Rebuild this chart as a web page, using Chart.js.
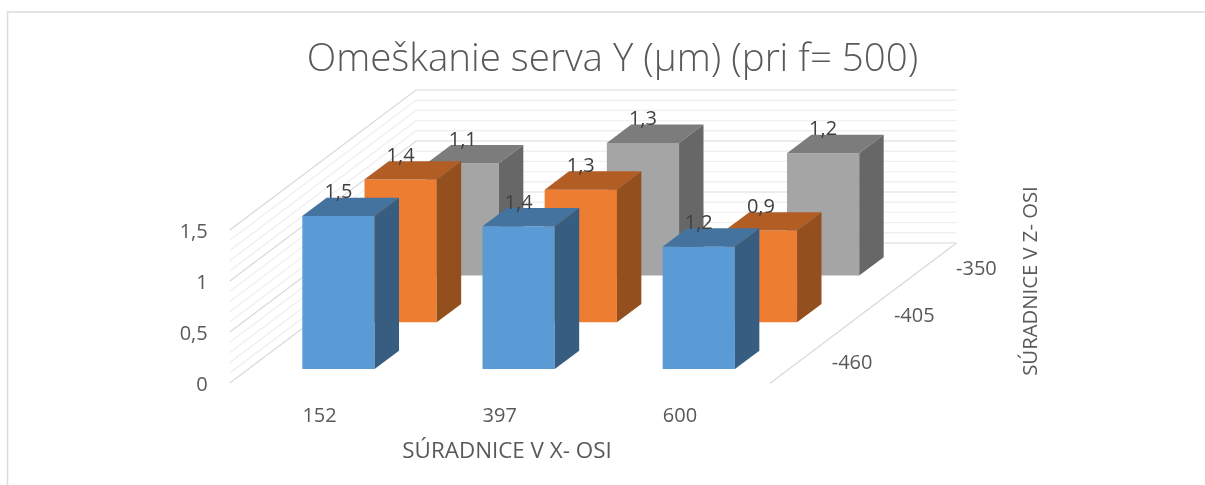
<!DOCTYPE html>
<html>
<head>
<meta charset="utf-8">
<script src="https://cdn.jsdelivr.net/npm/chart.js@4"></script>
<style>html,body{margin:0;padding:0;background:#fff}canvas{display:block}</style>
</head>
<body>
<canvas id="c" width="1205" height="485"></canvas>
<script>
const chartTitle = 'Omeškanie serva Y (µm) (pri f= 500)';
const xTitle = 'SÚRADNICE V X- OSI';
const zTitle = 'SÚRADNICE V Z- OSI';
const xLabels = ['152', '397', '600'];
const zLabels = ['-460', '-405', '-350'];
const seriesFront = [1.5, 1.4, 1.2];
const seriesMiddle = [1.4, 1.3, 0.9];
const seriesBack = [1.1, 1.3, 1.2];
const frontColors = ['#5B9BD5', '#ED7D31', '#A5A5A5'];
const topColors = ['#44739F', '#B25D24', '#7C7C7C'];
const sideColors = ['#375D80', '#944F1E', '#676767'];

const FONT = '"Open Sans", sans-serif';
const DEPTH_DX = 186.5, DEPTH_DY = -140.3;   // projection of the whole z axis
const BAR_DEPTH = 0.131;                     // share of the z axis taken by a bar
const slotStart = i => (i + 0.5) / zLabels.length - BAR_DEPTH / 2;
const comma = v => String(v).replace('.', ',');

const plot3d = {
  id: 'plot3d',
  afterLayout(chart) {
    const tb = chart.titleBlock;
    tb.left = 227.5;
    tb.right = 997.5;
    const s = chart.scales.y;
    if (!s._shifted) {
      const orig = s.drawLabels;
      s.drawLabels = function (area) {
        this.ctx.save();
        this.ctx.translate(0, 2);
        orig.call(this, area);
        this.ctx.restore();
      };
      s._shifted = true;
    }
  },
  beforeDraw(chart) {
    const {ctx} = chart;
    ctx.save();
    ctx.strokeStyle = '#dcdcdc';
    ctx.lineWidth = 1.5;
    ctx.beginPath();
    ctx.moveTo(7.5, 485); ctx.lineTo(7.5, 12); ctx.lineTo(1205, 12);
    ctx.stroke();
    ctx.restore();
  },
  beforeDatasetsDraw(chart) {
    const {ctx, chartArea: a, scales: {y}} = chart;
    ctx.save();
    const ticks = y.ticks.slice().sort((p, q) => (Math.round(p.value * 10) % 5 === 0) - (Math.round(q.value * 10) % 5 === 0));
    for (const t of ticks) {
      const major = Math.round(t.value * 10) % 5 === 0;
      const py = y.getPixelForValue(t.value);
      ctx.strokeStyle = major ? '#d9d9d9' : '#f0f0f0';
      ctx.lineWidth = major ? 1.2 : 1.4;
      ctx.beginPath();
      ctx.moveTo(a.left, py);
      ctx.lineTo(a.left + DEPTH_DX, py + DEPTH_DY);
      ctx.lineTo(a.right + DEPTH_DX, py + DEPTH_DY);
      ctx.stroke();
    }
    const y0 = y.getPixelForValue(0);
    ctx.strokeStyle = '#d9d9d9';
    ctx.lineWidth = 1.2;
    ctx.beginPath();
    ctx.moveTo(a.right, y0);
    ctx.lineTo(a.right + DEPTH_DX, y0 + DEPTH_DY);
    ctx.stroke();
    ctx.restore();
  },
  beforeDatasetDraw(chart, args) {
    const s = slotStart(args.index);
    chart.ctx.save();
    chart.ctx.translate(s * DEPTH_DX, s * DEPTH_DY);
  },
  afterDatasetDraw(chart, args) {
    const {ctx} = chart;
    const i = args.index;
    const dx = BAR_DEPTH * DEPTH_DX, dy = BAR_DEPTH * DEPTH_DY;
    for (const el of args.meta.data) {
      const {x, y, base, width} = el.getProps(['x', 'y', 'base', 'width'], true);
      const l = x - width / 2, r = x + width / 2;
      ctx.fillStyle = topColors[i];
      ctx.beginPath();
      ctx.moveTo(l, y); ctx.lineTo(l + dx, y + dy); ctx.lineTo(r + dx, y + dy); ctx.lineTo(r, y);
      ctx.closePath(); ctx.fill();
      ctx.fillStyle = sideColors[i];
      ctx.beginPath();
      ctx.moveTo(r, y); ctx.lineTo(r + dx, y + dy); ctx.lineTo(r + dx, base + dy); ctx.lineTo(r, base);
      ctx.closePath(); ctx.fill();
    }
    ctx.restore();
  },
  afterDatasetsDraw(chart) {
    const {ctx, chartArea: a, scales: {y}} = chart;
    ctx.save();
    ctx.textAlign = 'center';
    ctx.textBaseline = 'middle';
    ctx.font = '20px ' + FONT;
    ctx.fillStyle = '#404040';
    chart.data.datasets.forEach((ds, i) => {
      const s = slotStart(i);
      chart.getDatasetMeta(i).data.forEach((el, j) => {
        const p = el.getProps(['x', 'y'], true);
        ctx.fillText(comma(ds.data[j]), p.x + s * DEPTH_DX, p.y + s * DEPTH_DY - 23.5);
      });
    });
    ctx.fillStyle = '#595959';
    const y0 = y.getPixelForValue(0);
    zLabels.forEach((t, i) => {
      const f = (i + 0.5) / zLabels.length;
      ctx.fillText(t, a.right + f * DEPTH_DX + 51, y0 + f * DEPTH_DY + 3);
    });
    ctx.font = '22.4px ' + FONT;
    ctx.fillText(xTitle, 507, 451.5);
    ctx.font = '20.3px ' + FONT;
    ctx.translate(1031.5, 281);
    ctx.rotate(-Math.PI / 2);
    ctx.fillText(zTitle, 0, 0);
    ctx.restore();
  }
};

new Chart(document.getElementById('c'), {
  type: 'bar',
  data: {
    labels: xLabels,
    datasets: [seriesFront, seriesMiddle, seriesBack].map((data, i) => ({
      label: zLabels[i], data,
      backgroundColor: frontColors[i],
      borderWidth: 0,
      barPercentage: 0.401,
      categoryPercentage: 1,
      grouped: false,
      clip: false
    }))
  },
  options: {
    responsive: false,
    animation: false,
    layout: {padding: {right: 435}},
    plugins: {
      legend: {display: false},
      tooltip: {enabled: false},
      title: {
        display: true,
        text: chartTitle,
        color: '#595959',
        font: {family: FONT, size: 38.5, weight: '300', lineHeight: 1.2},
        padding: {top: 37, bottom: 147.1}
      }
    },
    scales: {
      x: {
        grid: {display: false, drawTicks: false},
        border: {display: false},
        ticks: {color: '#595959', font: {family: FONT, size: 20}, padding: 21, maxRotation: 0},
        afterFit(s) { s.height = 101.7; }
      },
      y: {
        min: 0, max: 1.5,
        grid: {display: false, drawTicks: false},
        border: {display: false},
        afterFit(s) { s.width = 229.5; },
        ticks: {
          stepSize: 0.1,
          autoSkip: false,
          color: '#595959',
          font: {family: FONT, size: 20},
          padding: 21.8,
          callback: v => Math.round(v * 10) % 5 === 0 ? comma(Math.round(v * 10) / 10) : ''
        }
      }
    }
  },
  plugins: [plot3d]
});
</script>
</body>
</html>
